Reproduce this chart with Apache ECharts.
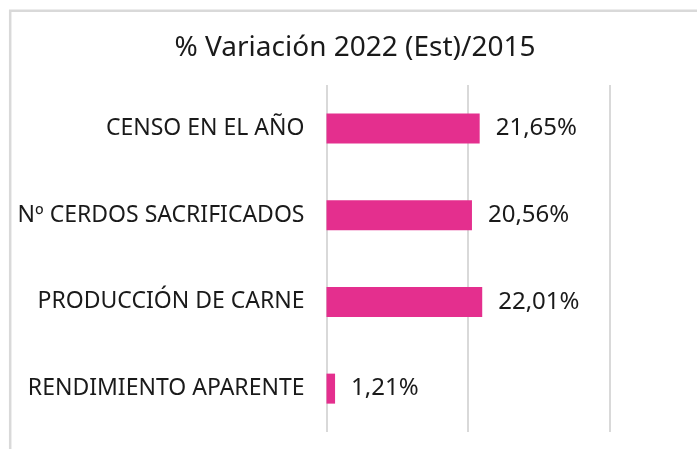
<!DOCTYPE html>
<html><head><meta charset="utf-8">
<script src="https://cdn.jsdelivr.net/npm/echarts@6/dist/echarts.min.js"></script>
<style>html,body{margin:0;padding:0;background:#fff}#c{width:697px;height:449px}</style>
</head><body><div id="c"></div>
<script>
const titleText = '% Variación 2022 (Est)/2015';
const categories = ['CENSO EN EL AÑO', 'Nº CERDOS SACRIFICADOS', 'PRODUCCIÓN DE CARNE', 'RENDIMIENTO APARENTE'];
const values = [21.65, 20.56, 22.01, 1.21];

const chart = echarts.init(document.getElementById('c'));
const FONT = 'Noto Sans';
chart.setOption({
  animation: false,
  backgroundColor: '#fff',
  title: {
    text: titleText, left: 350, top: 29, textAlign: 'center',
    textStyle: { fontFamily: FONT, fontSize: 28, fontWeight: 'normal', color: '#1a1a1a' }
  },
  graphic: [{
    type: 'rect', silent: true, z: -1,
    shape: { x: 10.2, y: 10.7, width: 900, height: 700 },
    style: { fill: 'none', stroke: '#d9d9d9', lineWidth: 2.5 }
  }],
  grid: { left: 326.5, right: 87.5, top: 85, bottom: 17, containLabel: false },
  xAxis: {
    type: 'value', min: 0, max: 40, interval: 20,
    axisLabel: { show: false }, axisLine: { show: false }, axisTick: { show: false },
    splitLine: { show: true, lineStyle: { color: '#d9d9d9', width: 2 } }
  },
  yAxis: {
    type: 'category', data: categories, inverse: true,
    axisLine: { show: false }, axisTick: { show: false },
    axisLabel: { fontFamily: FONT, fontSize: 23, color: '#1a1a1a', margin: 22 }
  },
  series: [{
    type: 'bar', data: values, barWidth: 30,
    itemStyle: { color: '#e42f8e' },
    label: {
      show: true, position: 'right', distance: 16,
      fontFamily: FONT, fontSize: 24, color: '#1a1a1a',
      formatter: p => p.value.toFixed(2).replace('.', ',') + '%'
    }
  }]
});
</script></body></html>
